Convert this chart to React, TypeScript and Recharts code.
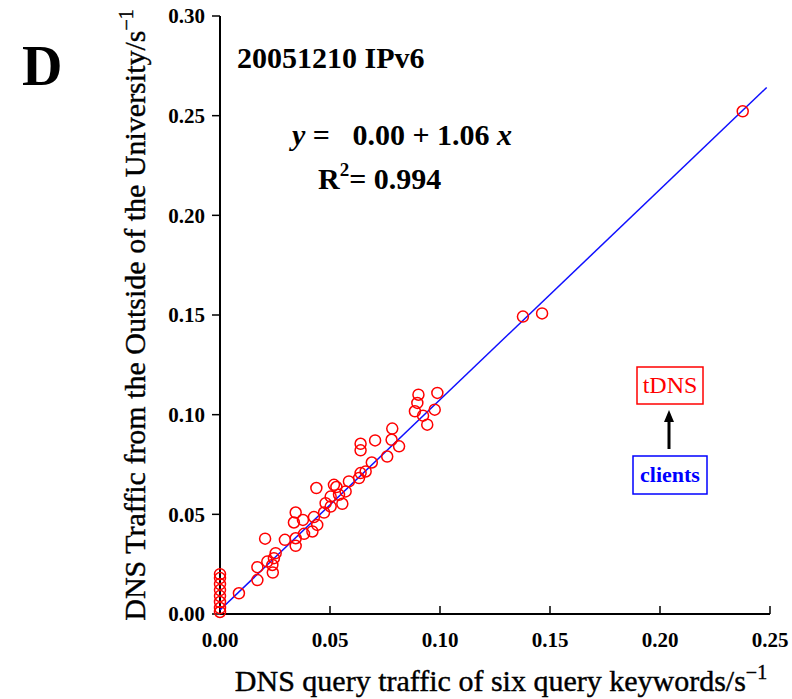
import { Label, Scatter, ScatterChart, XAxis, YAxis } from "recharts";

// DNS query traffic of six query keywords (x) vs DNS traffic from outside (y), s^-1
const zeroColumnY = [0.001, 0.003, 0.006, 0.009, 0.012, 0.015, 0.018, 0.02];

const clientX = [
  0.0086, 0.017, 0.017, 0.0205, 0.0215, 0.0238, 0.024, 0.0253, 0.0245, 0.0295,
  0.0344, 0.0344, 0.0336, 0.0344, 0.0377, 0.0382, 0.0427, 0.0442, 0.0438,
  0.042, 0.0473, 0.048, 0.0503, 0.0503, 0.0518, 0.0529, 0.0541, 0.0556,
  0.0571, 0.0586, 0.0632, 0.0639, 0.0639, 0.0639, 0.0662, 0.069, 0.0705,
  0.076, 0.078, 0.0783, 0.0814, 0.0886, 0.0897, 0.0902, 0.0923, 0.0942,
  0.0976, 0.0988, 0.1377, 0.1464, 0.2376,
];
const tdnsY = [
  0.0104, 0.017, 0.0235, 0.0378, 0.0263, 0.0246, 0.0208, 0.0305, 0.028, 0.0372,
  0.0342, 0.038, 0.0459, 0.0509, 0.0472, 0.0402, 0.0486, 0.0447, 0.0632,
  0.0414, 0.0509, 0.0556, 0.0539, 0.0589, 0.0648, 0.0637, 0.0598, 0.0553,
  0.0615, 0.0665, 0.0682, 0.0707, 0.0821, 0.0854, 0.0715, 0.076, 0.0871,
  0.079, 0.0874, 0.093, 0.0841, 0.1017, 0.1059, 0.11, 0.0995, 0.095,
  0.1025, 0.1109, 0.1492, 0.1508, 0.2522,
];

const xTicks = [0, 0.05, 0.1, 0.15, 0.2, 0.25];
const yTicks = [0, 0.05, 0.1, 0.15, 0.2, 0.25, 0.3];

// fitted line as printed on the chart
const fitIntercept = 0.002;
const fitSlope = 1.055;
const fitRange = [0, 0.2485];

const points = [
  ...zeroColumnY.map((y) => ({ x: 0, y })),
  ...clientX.map((x, i) => ({ x, y: tdnsY[i] })),
];
const fitLine = fitRange.map((x) => ({ x, y: fitIntercept + fitSlope * x }));

const FONT = "'Liberation Serif', 'Times New Roman', serif";
const tickStyle = { fontFamily: FONT, fontSize: 21, fontWeight: 700, fill: "#000" };
const fmt = (v: number) => v.toFixed(2);

const OpenCircle = (props: any) => (
  <circle cx={props.cx} cy={props.cy} r={5.5} fill="none" stroke="#ff0000" strokeWidth={1.5} />
);

export default function App() {
  return (
    <div style={{ position: "absolute", left: 0, top: 0, width: 792, height: 699, background: "#fff" }}>
      <ScatterChart
        width={792}
        height={699}
        margin={{ top: 16, right: 22, bottom: 0, left: 160 }}
      >
        <XAxis
          type="number"
          dataKey="x"
          domain={[0, 0.25]}
          ticks={xTicks}
          tickFormatter={fmt}
          tick={tickStyle}
          tickSize={-8}
          tickMargin={26}
          height={85}
          axisLine={{ stroke: "#000", strokeWidth: 2 }}
          tickLine={{ stroke: "#000", strokeWidth: 1.5 }}
        >
          <Label
            content={() => (
              <text x={501} y={691} textAnchor="middle" fontFamily={FONT} fontSize={30} fill="#000" stroke="#000" strokeWidth={0.4}>
                DNS query traffic of six query keywords/s
                <tspan fontSize={20} dy={-12}>−1</tspan>
              </text>
            )}
          />
        </XAxis>
        <XAxis
          xAxisId="top"
          orientation="top"
          type="number"
          domain={[0, 0.25]}
          ticks={xTicks}
          tick={false}
          tickSize={-8}
          height={0}
          axisLine={{ stroke: "#000", strokeWidth: 2 }}
          tickLine={{ stroke: "#000", strokeWidth: 1.5 }}
        />
        <YAxis
          type="number"
          dataKey="y"
          domain={[0, 0.3]}
          ticks={yTicks}
          tickFormatter={fmt}
          tick={tickStyle}
          tickSize={8}
          tickMargin={7}
          width={60}
          axisLine={{ stroke: "#000", strokeWidth: 2 }}
          tickLine={{ stroke: "#000", strokeWidth: 1.5 }}
        >
          <Label
            content={() => (
              <text
                x={145}
                y={315}
                transform="rotate(-90 145 315)"
                textAnchor="middle"
                fontFamily={FONT}
                fontSize={30}
                fill="#000"
                stroke="#000"
                strokeWidth={0.4}
              >
                DNS Traffic from the Outside of the University/s
                <tspan fontSize={20} dy={-12}>−1</tspan>
              </text>
            )}
          />
        </YAxis>
        <YAxis
          yAxisId="right"
          orientation="right"
          type="number"
          domain={[0, 0.3]}
          ticks={yTicks}
          tick={false}
          tickSize={-8}
          width={0}
          axisLine={{ stroke: "#000", strokeWidth: 2 }}
          tickLine={{ stroke: "#000", strokeWidth: 1.5 }}
        />
        <Scatter
          data={fitLine}
          line={{ stroke: "#1010ff", strokeWidth: 1.5 }}
          shape={() => <g />}
          isAnimationActive={false}
        />
        <Scatter data={points} shape={OpenCircle} isAnimationActive={false} />
      </ScatterChart>
      <svg
        width={792}
        height={699}
        style={{ position: "absolute", left: 0, top: 0, pointerEvents: "none" }}
        fontFamily={FONT}
      >
        <text x={22} y={85} fontSize={56} fontWeight={700}>D</text>
        <text x={237} y={68} fontSize={30} fontWeight={700}>20051210 IPv6</text>
        <text x={292} y={145} fontSize={30} fontWeight={700} xmlSpace="preserve">
          <tspan fontStyle="italic">y</tspan> =   0.00 + 1.06 <tspan fontStyle="italic">x</tspan>
        </text>
        <text x={318} y={189} fontSize={30} fontWeight={700}>
          R<tspan fontSize={19} dy={-13}>2</tspan>
          <tspan dy={13}>= 0.994</tspan>
        </text>
        <rect x={637} y={367} width={66} height={37} fill="none" stroke="#ff0000" strokeWidth={1.5} />
        <text x={670} y={393} textAnchor="middle" fontSize={24} fill="#ff0000">tDNS</text>
        <line x1={669} y1={449} x2={669} y2={420} stroke="#000" strokeWidth={3} />
        <polygon points="664,422 674,422 669,410" fill="#000" />
        <rect x={633} y={456} width={74} height={38} fill="none" stroke="#0000ff" strokeWidth={1.5} />
        <text x={670} y={482} textAnchor="middle" fontSize={22} fontWeight={700} fill="#0000ff">clients</text>
      </svg>
    </div>
  );
}
